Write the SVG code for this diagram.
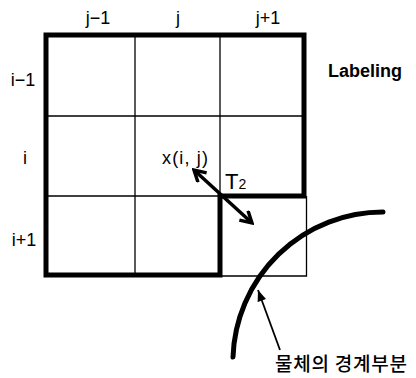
<svg xmlns="http://www.w3.org/2000/svg" width="416" height="378" viewBox="0 0 416 378">
<style>
.lbl{font-family:"Liberation Sans",Arial,sans-serif;font-size:18px;fill:#000}
.thin{stroke:#000;stroke-width:1.3;fill:none}
.thick{stroke:#000;stroke-width:5;fill:none;stroke-linejoin:miter}
</style>
<defs>
<marker id="open" viewBox="0 0 14 14" refX="12" refY="7" markerWidth="15" markerHeight="15" markerUnits="userSpaceOnUse" orient="auto-start-reverse">
<path d="M1.5,1 L12,7 L1.5,13" fill="none" stroke="#000" stroke-width="3.2"/>
</marker>
<marker id="fill" viewBox="0 0 10 8" refX="10" refY="4" markerWidth="12" markerHeight="9" markerUnits="userSpaceOnUse" orient="auto">
<path d="M0,0 L10,4 L0,8 Z" fill="#000"/>
</marker>
</defs>
<g id="grid">
<line class="thin" x1="135" y1="35" x2="135" y2="275"/>
<line class="thin" x1="220" y1="35" x2="220" y2="196"/>
<line class="thin" x1="46" y1="116" x2="304" y2="116"/>
<line class="thin" x1="46" y1="196" x2="220" y2="196"/>
<path class="thin" d="M220,276 H306.5 V196"/>
<path class="thick" d="M46,35 H304 V196 H220 V275 H46 Z"/>
</g>
<g id="labels">
<text class="lbl" x="98" y="24" text-anchor="middle">j−1</text>
<text class="lbl" x="178" y="24" text-anchor="middle">j</text>
<text class="lbl" x="268" y="24" text-anchor="middle">j+1</text>
<text class="lbl" x="23" y="86" text-anchor="middle">i−1</text>
<text class="lbl" x="25" y="164" text-anchor="middle">i</text>
<text class="lbl" x="24" y="246" text-anchor="middle">i+1</text>
<text x="328" y="77" font-family="'Liberation Sans',Arial,sans-serif" font-size="18" font-weight="bold" textLength="74">Labeling</text>
</g>
<g id="xij">
<text class="lbl" x="162" y="164" textLength="46">x(i, j)</text>
</g>
<g id="T2">
<text x="225" y="189" font-family="'Liberation Sans',Arial,sans-serif" font-size="22">T<tspan font-size="14">2</tspan></text>
</g>
<g id="boundary">
<path d="M383,212 A150,150 0 0 0 233,357" fill="none" stroke="#000" stroke-width="5" stroke-linecap="round"/>
<text x="275" y="371" font-family="'Noto Sans CJK KR','Noto Sans CJK SC',sans-serif" font-size="19" font-weight="500" textLength="132">물체의 경계부분</text>
</g>
<g id="connectors">
<line x1="194" y1="170" x2="252" y2="223" stroke="#000" stroke-width="3.5" marker-start="url(#open)" marker-end="url(#open)"/>
<line x1="280" y1="350" x2="258" y2="290" stroke="#000" stroke-width="1.8" marker-end="url(#fill)"/>
</g>
</svg>
